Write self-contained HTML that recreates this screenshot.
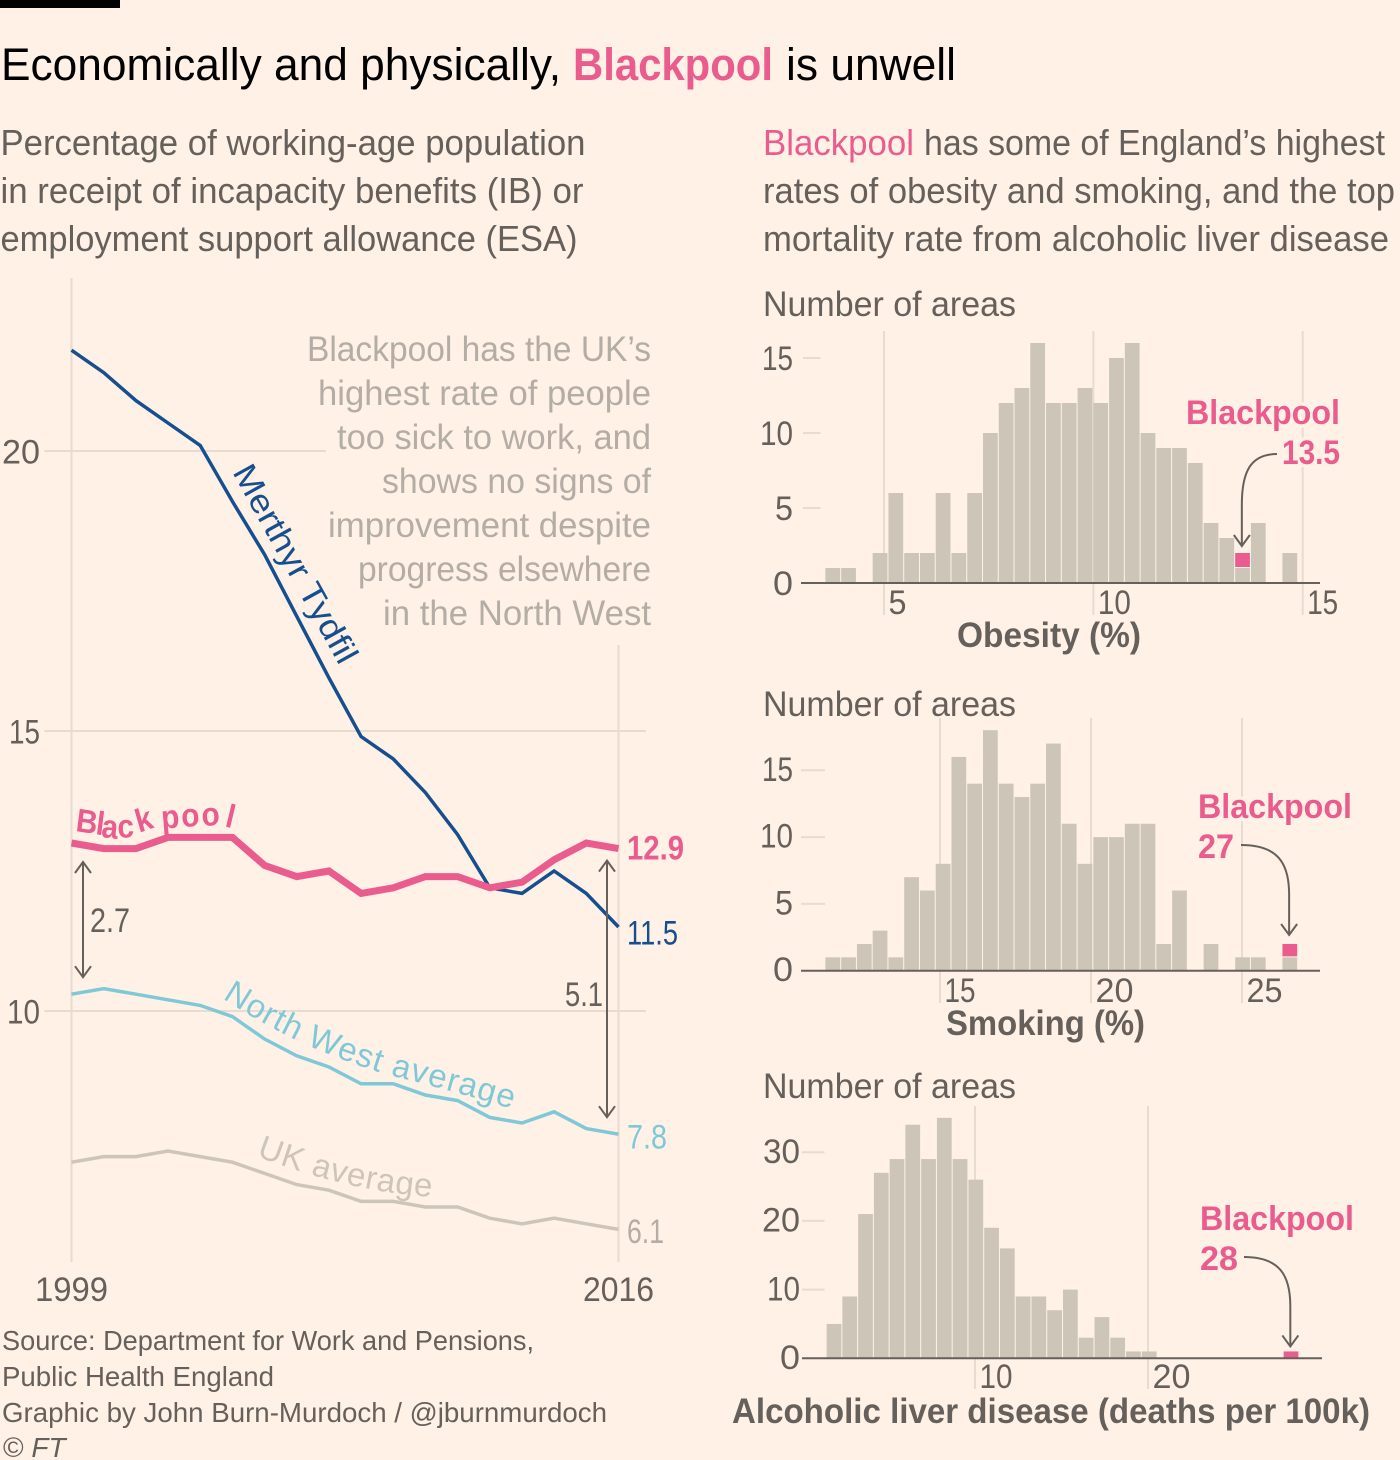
<!DOCTYPE html>
<html lang="en">
<head>
<meta charset="utf-8">
<title>Economically and physically, Blackpool is unwell</title>
<style>
html,body{margin:0;padding:0;background:#fff1e5;}
svg{display:block;font-family:"Liberation Sans",sans-serif;}
text{fill:#66605c;}
.lead{font-size:36px;}
.note{font-size:35px;fill:#b3ada5;}
.src{font-size:28px;}
.pink{fill:#ea5c8e;}
.halo{paint-order:stroke;stroke:#fff1e5;stroke-width:7px;stroke-linejoin:round;}
</style>
</head>
<body>
<svg xmlns="http://www.w3.org/2000/svg" width="1400" height="1460" viewBox="0 0 1400 1460">
<rect x="0" y="0" width="1400" height="1460" fill="#fff1e5"/>
<rect x="0" y="0" width="120" height="8" fill="#000"/>

<g font-size="45">
<text x="1" y="80" textLength="560" lengthAdjust="spacingAndGlyphs" style="fill:#000">Economically and physically,</text>
<text x="573" y="80" textLength="200" lengthAdjust="spacingAndGlyphs" font-weight="bold" class="pink">Blackpool</text>
<text x="786" y="80" textLength="170" lengthAdjust="spacingAndGlyphs" style="fill:#000">is unwell</text>
</g>

<g class="lead">
<text x="0.5" y="155" textLength="585" lengthAdjust="spacingAndGlyphs">Percentage of working-age population</text>
<text x="0.5" y="203" textLength="583" lengthAdjust="spacingAndGlyphs">in receipt of incapacity benefits (IB) or</text>
<text x="0.5" y="251" textLength="577" lengthAdjust="spacingAndGlyphs">employment support allowance (ESA)</text>
</g>

<g class="lead">
<text x="763" y="155" textLength="151" lengthAdjust="spacingAndGlyphs" class="pink">Blackpool</text>
<text x="924" y="155" textLength="461" lengthAdjust="spacingAndGlyphs">has some of England’s highest</text>
<text x="763" y="203" textLength="632" lengthAdjust="spacingAndGlyphs">rates of obesity and smoking, and the top</text>
<text x="763" y="251" textLength="626" lengthAdjust="spacingAndGlyphs">mortality rate from alcoholic liver disease</text>
</g>

<g id="line-chart"></g>

<g class="note">
<text x="307" y="361" textLength="344" lengthAdjust="spacingAndGlyphs" class="note">Blackpool has the UK’s</text>
<text x="318" y="405" textLength="333" lengthAdjust="spacingAndGlyphs" class="note">highest rate of people</text>
<text x="337" y="449" textLength="314" lengthAdjust="spacingAndGlyphs" class="note">too sick to work, and</text>
<text x="382" y="493" textLength="269" lengthAdjust="spacingAndGlyphs" class="note">shows no signs of</text>
<text x="328" y="537" textLength="323" lengthAdjust="spacingAndGlyphs" class="note">improvement despite</text>
<text x="358" y="581" textLength="293" lengthAdjust="spacingAndGlyphs" class="note">progress elsewhere</text>
<text x="383" y="625" textLength="268" lengthAdjust="spacingAndGlyphs" class="note">in the North West</text>
</g>

<defs>
<path id="label-path-north-west" d="M222 998 Q262 1024 300 1042 Q340 1060 385 1074 Q450 1090 516 1110"/>
<path id="label-path-uk" d="M256 1156 Q298 1172 338 1182 Q385 1194 434 1197"/>
</defs>
<g>
<text transform="translate(232,472) rotate(61)" font-size="33" textLength="222" lengthAdjust="spacingAndGlyphs" style="fill:#164f8f">Merthyr Tydfil</text>
<text transform="scale(0.9 1)" font-size="33" font-weight="bold" class="pink" x="83.3 105.6 112 131 154.4 180 202 224.4 249" y="831 834 837 838 833 829 827 826 826" rotate="8 8 6 -3 -18 -5 -3 -3 15">Blackpool</text>
<text font-size="33" style="fill:#7fc8d8"><textPath href="#label-path-north-west" textLength="312">North West average</textPath></text>
<text font-size="33" style="fill:#cec5b9"><textPath href="#label-path-uk" textLength="181">UK average</textPath></text>
</g>

<g class="src">
<text x="2" y="1350" textLength="532" lengthAdjust="spacingAndGlyphs">Source: Department for Work and Pensions,</text>
<text x="2" y="1386" textLength="272" lengthAdjust="spacingAndGlyphs">Public Health England</text>
<text x="2" y="1422" textLength="605" lengthAdjust="spacingAndGlyphs">Graphic by John Burn-Murdoch / @jburnmurdoch</text>
<text x="3" y="1457">© <tspan font-style="italic">FT</tspan></text>
</g>

<g id="hist-obesity"></g>
<g id="hist-smoking"></g>
<g id="hist-liver"></g>

<g>
<text x="763" y="316" font-size="35" textLength="253" lengthAdjust="spacingAndGlyphs">Number of areas</text>
<text x="763" y="716" font-size="35" textLength="253" lengthAdjust="spacingAndGlyphs">Number of areas</text>
<text x="763" y="1098" font-size="35" textLength="253" lengthAdjust="spacingAndGlyphs">Number of areas</text>
<text x="957" y="647" font-size="35" font-weight="bold" textLength="184" lengthAdjust="spacingAndGlyphs">Obesity (%)</text>
<text x="946" y="1035" font-size="35" font-weight="bold" textLength="199" lengthAdjust="spacingAndGlyphs">Smoking (%)</text>
<text x="732" y="1423" font-size="35" font-weight="bold" textLength="638" lengthAdjust="spacingAndGlyphs">Alcoholic liver disease (deaths per 100k)</text>
</g>

<g font-size="34" font-weight="bold">
<text x="1186" y="424" textLength="154" lengthAdjust="spacingAndGlyphs" class="pink halo">Blackpool</text>
<text x="1282" y="464" textLength="58" lengthAdjust="spacingAndGlyphs" class="pink halo">13.5</text>
<text x="1198" y="818" textLength="154" lengthAdjust="spacingAndGlyphs" class="pink halo">Blackpool</text>
<text x="1198" y="858" textLength="36" lengthAdjust="spacingAndGlyphs" class="pink halo">27</text>
<text x="1200" y="1230" textLength="154" lengthAdjust="spacingAndGlyphs" class="pink halo">Blackpool</text>
<text x="1200" y="1270" textLength="38" lengthAdjust="spacingAndGlyphs" class="pink halo">28</text>
</g>

<script>
/* ---------- line chart data ---------- */
const years = [1999,2000,2001,2002,2003,2004,2005,2006,2007,2008,2009,2010,2011,2012,2013,2014,2015,2016];
const merthyrValues = [21.8,21.4,20.9,20.5,20.1,19.1,18.15,17.05,15.95,14.9,14.5,13.9,13.15,12.2,12.1,12.5,12.1,11.5];
const blackpoolValues = [13.0,12.9,12.9,13.1,13.1,13.1,12.6,12.4,12.5,12.1,12.2,12.4,12.4,12.2,12.3,12.7,13.0,12.9];
const northWestValues = [10.3,10.4,10.3,10.2,10.1,9.9,9.5,9.2,9.0,8.7,8.7,8.5,8.4,8.1,8.0,8.2,7.9,7.8];
const ukValues = [7.3,7.4,7.4,7.5,7.4,7.3,7.1,6.9,6.8,6.6,6.6,6.5,6.5,6.3,6.2,6.3,6.2,6.1];
const lineYTicks = [20,15,10];
const lineXTicks = [1999,2016];

/* ---------- histogram data ---------- */
const obesityCounts = [1,1,0,2,6,2,2,6,2,6,10,12,13,16,12,12,13,12,15,16,10,9,9,8,4,3,1,4,0,2];
const smokingCounts = [1,1,2,3,1,7,6,8,16,14,18,14,13,14,17,11,8,10,10,11,11,2,6,0,2,0,1,1,0,1];
const liverCounts = [5,9,21,27,29,34,29,35,29,26,19,16,9,9,7,10,3,6,3,1,1,0,0,0,0,0,0,0,0,0];
const obesityYTicks = [0,5,10,15];
const obesityXTicks = [5,10,15];
const smokingYTicks = [0,5,10,15];
const smokingXTicks = [15,20,25];
const liverYTicks = [0,10,20,30];
const liverXTicks = [10,20];
const obesityBlackpoolBin = 26;
const smokingBlackpoolBin = 29;
const liverBlackpoolBin = 29;

/* ---------- helpers ---------- */
const SVG_NS = 'http://www.w3.org/2000/svg';
const GRID = '#e6dcd0', INK = '#66605c', BAR = '#cec5b9', PINK = '#ea5c8e', BG = '#fff1e5';
const glyphWidth = {'0':20,'1':13,'2':18,'3':17,'5':18,'6':17,'7':15,'8':18,'9':19,'.':7};
function labelWidth(s){ return String(s).split('').reduce(function(a,c){ return a + (glyphWidth[c]||18); },0); }
function mk(tag, attrs, parent){
  const e = document.createElementNS(SVG_NS, tag);
  Object.keys(attrs).forEach(function(k){ e.setAttribute(k, attrs[k]); });
  parent.appendChild(e);
  return e;
}
function mkLabel(str, x, y, size, parent){
  const w = labelWidth(str);
  const t = mk('text', {x:x, y:y, 'font-size':size, textLength:w, lengthAdjust:'spacingAndGlyphs'}, parent);
  t.textContent = str;
  return t;
}
function arrowHead(x, y, dir, parent){
  return mk('path', {d:'M'+(x-8)+' '+(y-dir*11)+' L'+x+' '+y+' L'+(x+8)+' '+(y-dir*11), fill:'none', stroke:INK, 'stroke-width':2}, parent);
}

/* ---------- line chart ---------- */
(function(){
  const root = document.getElementById('line-chart');
  const xScale = function(yr){ return 71.5 + (yr - 1999) * (618.5 - 71.5) / (2016 - 1999); };
  const yScale = function(v){ return 451 + (20 - v) * 56; };

  const gridRight = {20:326, 15:646, 10:646};
  lineYTicks.forEach(function(t){
    const g = mk('line', {x1:44.5, x2:gridRight[t], y1:yScale(t), y2:yScale(t), stroke:GRID, 'stroke-width':2}, root);
    
    
    const s = String(t);
    const l = mkLabel(s, 40 - labelWidth(s), yScale(t) + 12.5, 34, root);
    
    
  });
  const gridTop = {1999:278, 2016:645};
  lineXTicks.forEach(function(yr){
    const g = mk('line', {x1:xScale(yr), x2:xScale(yr), y1:gridTop[yr], y2:1262, stroke:GRID, 'stroke-width':2}, root);
    
    
    const s = String(yr);
    const l = mkLabel(s, xScale(yr) - labelWidth(s) / 2 - 1.5, 1301, 34, root);
    l.setAttribute('textLength', labelWidth(s) + 3);
    
    
  });

  function drawSeries(values, color, width, name){
    const d = values.map(function(v,i){ return (i ? 'L' : 'M') + xScale(years[i]).toFixed(1) + ' ' + yScale(v).toFixed(1); }).join(' ');
    const p = mk('path', {d:d, fill:'none', stroke:color, 'stroke-width':width, 'stroke-linejoin':'miter'}, root);
    
    
  }
  drawSeries(ukValues, '#cec5b9', 3.5, 'uk-average');
  drawSeries(northWestValues, '#7fc8d8', 3.5, 'north-west-average');
  drawSeries(merthyrValues, '#164f8f', 3.5, 'merthyr-tydfil');
  drawSeries(blackpoolValues, PINK, 7, 'blackpool');

  function endLabel(values, color, offset, bold, name){
    const v = values[values.length - 1];
    const l = mkLabel(v.toFixed(1), 627, yScale(v) + offset, 34, root);
    l.setAttribute('style', 'fill:' + color);
    if (bold) l.setAttribute('font-weight', 'bold');
    
    
  }
  endLabel(blackpoolValues, PINK, 11, true, 'blackpool');
  endLabel(merthyrValues, '#164f8f', 17.5, false, 'merthyr-tydfil');
  endLabel(northWestValues, '#7fc8d8', 14.5, false, 'north-west-average');
  endLabel(ukValues, '#b3ada5', 13.5, false, 'uk-average');

  /* gap arrows */
  function gapArrow(x, fromVal, toVal, topGap, bottomGap, name){
    const y1 = yScale(fromVal) + topGap, y2 = yScale(toVal) - bottomGap;
    const g = mk('g', {}, root);
    
    
    mk('line', {x1:x, x2:x, y1:y1, y2:y2, stroke:INK, 'stroke-width':2}, g);
    arrowHead(x, y1, -1, g);
    arrowHead(x, y2, 1, g);
  }
  gapArrow(83, blackpoolValues[0], northWestValues[0], 19, 17, 'gap-arrow-1999');
  gapArrow(607, blackpoolValues[17], northWestValues[17], 12, 17, 'gap-arrow-2016');

  const gapA = (blackpoolValues[0] - northWestValues[0]).toFixed(1);
  const a = mkLabel(gapA, 90, 932, 34, root);
  
  
  const gapB = (blackpoolValues[17] - northWestValues[17]).toFixed(1);
  const b = mkLabel(gapB, 603 - labelWidth(gapB), 1006, 34, root);
  
  
})();

/* ---------- histograms ---------- */
function drawHistogram(cfg){
  const root = document.getElementById(cfg.id);
  const binPx = 15.76;
  const xScale = function(v){ return cfg.xRef + (v - cfg.xRefVal) * cfg.xPerUnit; };
  const yScale = function(c){ return cfg.base - c * cfg.yPerUnit; };
  const binLeft = function(i){ return cfg.firstBar + i * binPx; };

  cfg.xTicks.forEach(function(t){
    const g = mk('line', {x1:xScale(t), x2:xScale(t), y1:cfg.gridTop, y2:cfg.gridBottom, stroke:GRID, 'stroke-width':2}, root);
    
    
    const l = mkLabel(String(t), xScale(t) + 4.5, cfg.gridBottom - 1, 34, root);
    
    
  });
  cfg.yTicks.forEach(function(t){
    if (t !== 0) {
      const g = mk('line', {x1:cfg.tickX1, x2:cfg.tickX2, y1:yScale(t), y2:yScale(t), stroke:GRID, 'stroke-width':2}, root);
      
      
    }
    const s = String(t);
    const l = mkLabel(s, cfg.labelRight - labelWidth(s), yScale(t) + cfg.labelDy, 34, root);
    
    
  });
  cfg.counts.forEach(function(c,i){
    if (c <= 0) return;
    const r = mk('rect', {x:binLeft(i) + 0.4, width:binPx - 1, y:yScale(c), height:c * cfg.yPerUnit, fill:BAR}, root);
    
    
  });
  const hiBase = cfg.counts[cfg.hiBin];
  const hi = mk('rect', {x:binLeft(cfg.hiBin) + 0.4, width:binPx - 1, y:yScale(hiBase + 1), height:cfg.yPerUnit - (hiBase > 0 ? 1 : 0), fill:PINK}, root);
  
  

  const axis = mk('line', {x1:cfg.axisX1, x2:cfg.axisX2, y1:cfg.base, y2:cfg.base, stroke:INK, 'stroke-width':2}, root);
  
  

  const tipX = binLeft(cfg.hiBin) + binPx / 2 - 0.8;
  const tipY = yScale(hiBase + 1) - cfg.arrowGap;
  const arrow = mk('g', {}, root);
  
  
  const sx = cfg.arrowStartX, sy = cfg.arrowStartY;
  const bendY = sy + (tipY - sy) * 0.55;
  mk('path', {d:'M' + sx + ' ' + sy + ' C' + (sx + (tipX - sx) * 0.75) + ' ' + sy + ' ' + tipX + ' ' + (sy + (bendY - sy) * 0.35) + ' ' + tipX + ' ' + bendY + ' L' + tipX + ' ' + tipY, fill:'none', stroke:INK, 'stroke-width':2}, arrow);
  arrowHead(tipX, tipY, 1, arrow);
}

drawHistogram({id:'hist-obesity', name:'obesity', counts:obesityCounts, hiBin:obesityBlackpoolBin,
  xTicks:obesityXTicks, yTicks:obesityYTicks, xRef:884, xRefVal:5, xPerUnit:41.87, firstBar:825, base:583, yPerUnit:15,
  gridTop:331, gridBottom:615, tickX1:803, tickX2:820.5, labelRight:793, labelDy:12, axisX1:801, axisX2:1320,
  arrowStartX:1277, arrowStartY:454, arrowGap:7});
drawHistogram({id:'hist-smoking', name:'smoking', counts:smokingCounts, hiBin:smokingBlackpoolBin,
  xTicks:smokingXTicks, yTicks:smokingYTicks, xRef:940, xRefVal:15, xPerUnit:30.2, firstBar:825, base:970.7, yPerUnit:13.36,
  gridTop:718, gridBottom:1003, tickX1:801, tickX2:825, labelRight:793, labelDy:10.5, axisX1:801, axisX2:1320,
  arrowStartX:1241, arrowStartY:845, arrowGap:9});
drawHistogram({id:'hist-liver', name:'liver-disease', counts:liverCounts, hiBin:liverBlackpoolBin,
  xTicks:liverXTicks, yTicks:liverYTicks, xRef:975, xRefVal:10, xPerUnit:17.3, firstBar:826.2, base:1358.3, yPerUnit:6.87,
  gridTop:1106, gridBottom:1389, tickX1:802, tickX2:824.5, labelRight:800, labelDy:10.7, axisX1:802, axisX2:1322,
  arrowStartX:1244, arrowStartY:1257, arrowGap:5});
</script>
</svg>
</body>
</html>
